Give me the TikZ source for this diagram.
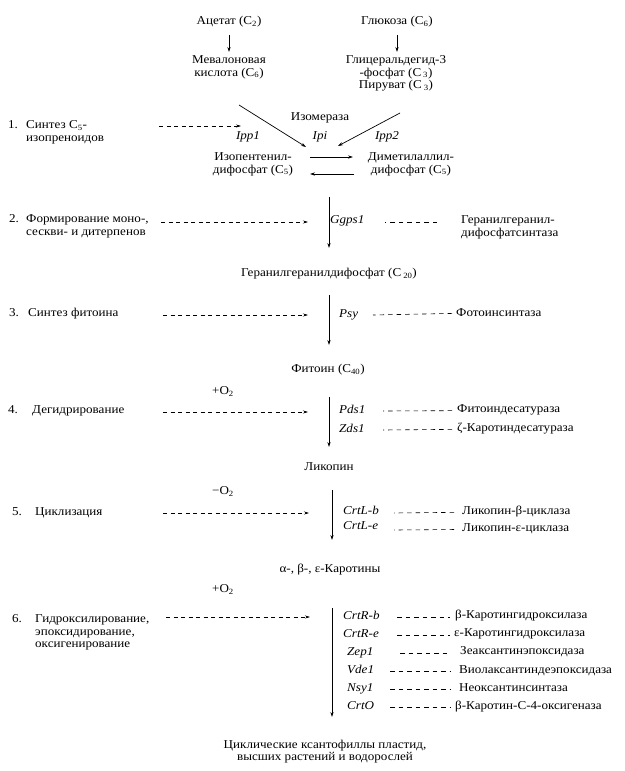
\documentclass[tikz,border=0pt]{standalone}
\usepackage{fontspec}
\setmainfont{Liberation Serif}[FakeStretch=1.09]
\usetikzlibrary{arrows.meta}
\newcommand\dfont{\fontsize{12}{12.5}\selectfont}
\begin{document}
\begin{tikzpicture}[x=1pt,y=-1pt,
  every node/.style={inner sep=0pt, font=\dfont},
  lab/.style={anchor=mid},
  labl/.style={anchor=mid west},
  ml/.style={align=center},
  mll/.style={align=left, anchor=north west},
  gene/.style={anchor=mid west, font=\dfont\itshape},
  genec/.style={anchor=mid, font=\dfont\itshape},
  arr/.style={line width=0.7pt, -{Stealth[length=5pt,width=3.2pt]}},
  dasharr/.style={line width=0.6pt, dash pattern=on 4pt off 3.5pt, -{Stealth[length=5pt,width=3pt]}},
  dashln/.style={line width=0.6pt, dash pattern=on 4.5pt off 4pt}]
\fill[white] (0,0) rectangle (624,771);
\useasboundingbox (0,0) rectangle (624,771);

% ---- top sources
\node[lab] (ac) at (229,22) {Ацетат (C\textsubscript{2})};
\node[lab] (glu) at (397,22) {Глюкоза (C\textsubscript{6})};
\node[ml, anchor=north] (mev) at (229,55.5) {Мевалоновая\\кислота (C\textsubscript{6})};
\node[ml, anchor=north] (gly) at (396,55.5) {Глицеральдегид-3\\-фосфат (C\,\textsubscript{3})\\Пируват (C\,\textsubscript{3})};
\draw[arr] (ac |- 0,35) -- (ac |- 0,52);
\draw[arr] (glu |- 0,35) -- (glu |- 0,52);

% ---- step 1
\node[labl] (n1) at (8,126) {1.};
\node[mll] (s1) at (26,120.5) {Синтез C\textsubscript{5}-\\изопреноидов};
\node[lab] (isom) at (320,118) {Изомераза};
\node[genec] (ipp1) at (248,137) {Ipp1};
\node[genec] (ipi) at (320,137) {Ipi};
\node[genec] (ipp2) at (387,137) {Ipp2};
\node[ml, anchor=north] (ipdp) at (253,152.5) {Изопентенил-\\дифосфат (C\textsubscript{5})};
\node[ml, anchor=north] (dmap) at (411,152.5) {Диметилаллил-\\дифосфат (C\textsubscript{5})};
\coordinate (d1a) at (239,105);
\coordinate (d1b) at (306,147);
\coordinate (d2a) at (400,113);
\coordinate (d2b) at (338,146);
\draw[arr] (d1a) -- (d1b);
\draw[arr] (d2a) -- (d2b);
\coordinate (e1a) at (159,126);
\coordinate (e1b) at (241,126);
\draw[dasharr] (e1a) -- (e1b);
\coordinate (h1a) at (310,157);
\coordinate (h1b) at (353,157);
\coordinate (h2a) at (354,174);
\coordinate (h2b) at (310,174);
\draw[arr] (h1a) -- (h1b);
\draw[arr] (h2a) -- (h2b);

% ---- step 2
\node[labl] (n2) at (9,220) {2.};
\node[mll] (s2) at (26,214.5) {Формирование моно-,\\сескви- и дитерпенов};
\node[gene] (ggps) at (330,221) {Ggps1};
\node[mll] (ggsyn) at (461,215.5) {Геранилгеранил-\\дифосфатсинтаза};
\node[lab] (ggpp) at (329,274) {Геранилгеранилдифосфат (C\,\textsubscript{20})};
\draw[arr] (ggpp |- 0,197) -- (ggpp |- 0,248);
\coordinate (e2a) at (161,222);
\coordinate (e2b) at (308,222);
\draw[dasharr] (e2a) -- (e2b);
\draw[dashln] (ggsyn.west |- 0,222) ++(-24,0) coordinate (g2b) -- ++(-52,0) coordinate (g2a);

% ---- step 3
\node[labl] (n3) at (9,314) {3.};
\node[labl] (s3) at (28,314) {Синтез фитоина};
\node[gene] (psy) at (339,315) {Psy};
\node[labl] (psyn) at (456,314) {Фотоинсинтаза};
\node[lab] (phy) at (328,370) {Фитоин (C\textsubscript{40})};
\draw[arr] (ggpp |- 0,295) -- (ggpp |- 0,345);
\coordinate (e3a) at (163,315);
\coordinate (e3b) at (308,315);
\draw[dasharr] (e3a) -- (e3b);
\draw[dashln] (psyn.west) ++(-4,1) -- (373,315);

% ---- step 4
\node[lab] (o4) at (223,392) {+O\textsubscript{2}};
\node[labl] (n4) at (8,411) {4.};
\node[labl] (s4) at (32,411) {Дегидрирование};
\node[gene] (pds) at (339,411) {Pds1};
\node[gene] (zds) at (339,430) {Zds1};
\node[labl] (pdse) at (457,410) {Фитоиндесатураза};
\node[labl] (zdse) at (457,429) {ζ-Каротиндесатураза};
\node[lab] (lyc) at (329,468) {Ликопин};
\draw[arr] (lyc |- 0,397) -- (lyc |- 0,447);
\coordinate (e4a) at (163,412);
\coordinate (e4b) at (308,412);
\draw[dasharr] (e4a) -- (e4b);
\draw[dashln] (pdse.west) ++(-5,1) -- (383,411);
\draw[dashln] (zdse.west) ++(-5,1) -- (383,430);

% ---- step 5
\node[lab] (o5) at (223,492) {−O\textsubscript{2}};
\node[labl] (n5) at (12,513) {5.};
\node[labl] (s5) at (35,513) {Циклизация};
\node[gene] (crtlb) at (343,512) {CrtL-b};
\node[gene] (crtle) at (343,527) {CrtL-e};
\node[labl] (lcb) at (462,512) {Ликопин-β-циклаза};
\node[labl] (lce) at (462,529) {Ликопин-ε-циклаза};
\node[lab] (car) at (330,570) {α-, β-, ε-Каротины};
\draw[arr] (332,490) coordinate (v5a) -- (332,540) coordinate (v5b);
\coordinate (e5a) at (163,513);
\coordinate (e5b) at (309,513);
\draw[dasharr] (e5a) -- (e5b);
\draw[dashln] (lcb.west) ++(-8,1) -- (394,513);
\draw[dashln] (lce.west) ++(-8,1) -- (394,530);

% ---- step 6
\node[lab] (o6) at (223,590) {+O\textsubscript{2}};
\node[labl] (n6) at (12,620) {6.};
\node[mll] (s6) at (35,614.5) {Гидроксилирование,\\эпоксидирование,\\оксигенирование};
\node[gene] (crtrb) at (343,617) {CrtR-b};
\node[gene] (crtre) at (343,635) {CrtR-e};
\node[gene] (zep) at (347,653) {Zep1};
\node[gene] (vde) at (347,671) {Vde1};
\node[gene] (nsy) at (347,689) {Nsy1};
\node[gene] (crto) at (347,707) {CrtO};
\node[labl] (bch) at (455,616) {β-Каротингидроксилаза};
\node[labl] (ech) at (454,634) {ε-Каротингидроксилаза};
\node[labl] (zepe) at (460,652) {Зеаксантинэпоксидаза};
\node[labl] (vdee) at (459,671) {Виолаксантиндеэпоксидаза};
\node[labl] (nsye) at (459,689) {Неоксантинсинтаза};
\node[labl] (crtoe) at (455,707) {β-Каротин-С-4-оксигеназа};
\draw[arr] (332,608) coordinate (v6a) -- (332,717) coordinate (v6b);
\coordinate (e6a) at (166,617);
\coordinate (e6b) at (310,617);
\draw[dasharr] (e6a) -- (e6b);
\draw[dashln] (397,617) -- (450,617);
\draw[dashln] (397,635) -- (450,635);
\draw[dashln] (400,653) -- (447,653);
\draw[dashln] (390,671) -- (450,671);
\draw[dashln] (390,689) -- (450,689);
\draw[dashln] (390,707) -- (450,707);

\node[ml, anchor=north] (xan) at (325,739.5) {Циклические ксантофиллы пластид,\\высших растений и водорослей};
\end{tikzpicture}
\end{document}
